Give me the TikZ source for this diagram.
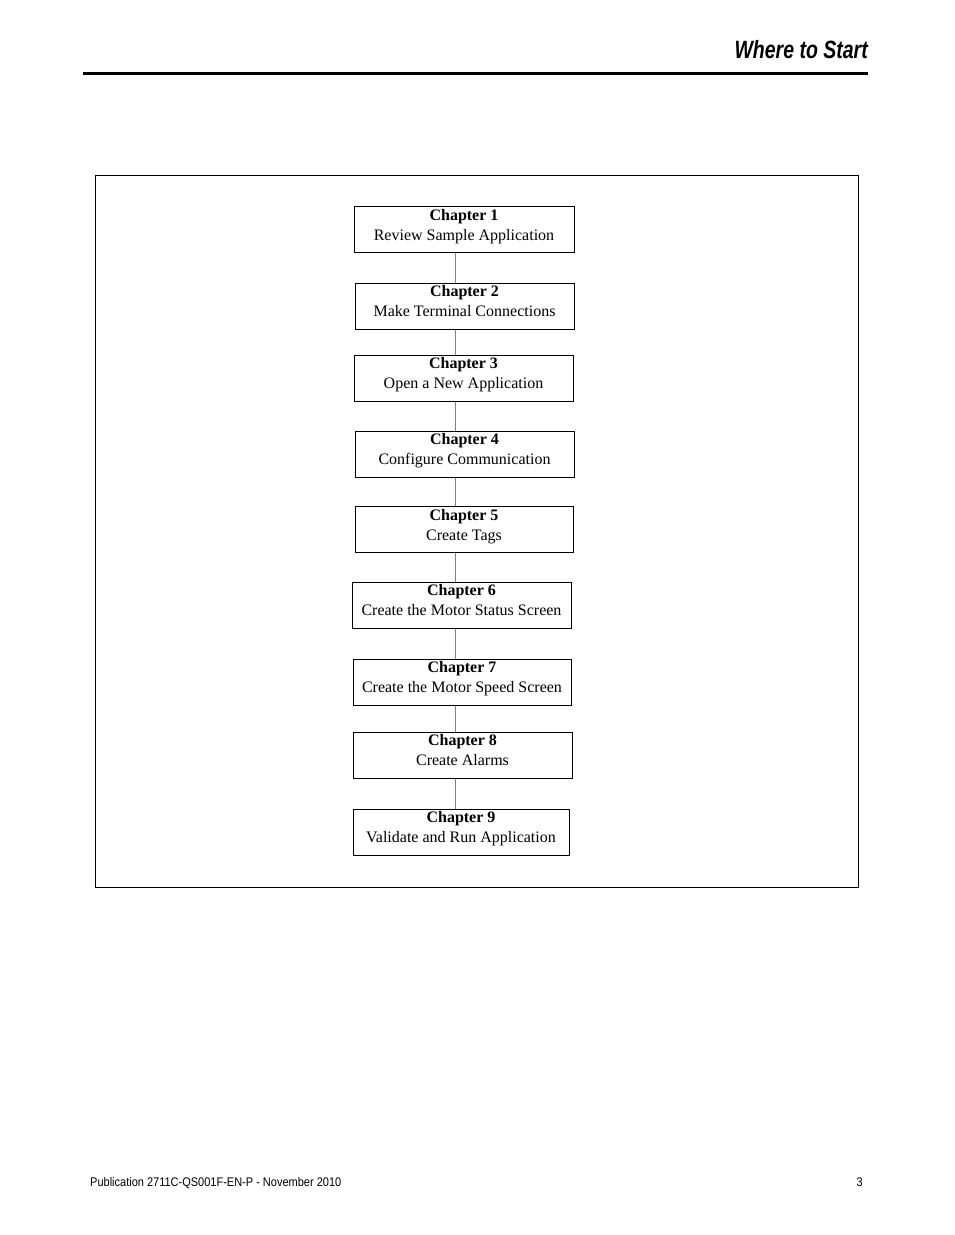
\documentclass[tikz,border=0pt]{standalone}
\usepackage{fontspec}
\setmainfont{Liberation Serif}
\newfontfamily\headfont{Liberation Sans}
\usetikzlibrary{positioning}

\tikzset{
  chapbox/.style={draw, line width=1pt, minimum width=219pt, minimum height=46pt,
    inner sep=0pt, text depth=10pt, align=center, font=\fontsize{16}{20}\selectfont},
  link/.style={draw=gray, line width=1pt}
}

\begin{document}
\begin{tikzpicture}[x=1pt,y=-1pt]
  \useasboundingbox[fill=white] (0,0) rectangle (954,1235);

  % page header and footer
  \node[anchor=base east, inner sep=0pt] (title) at (868,58)
    {\fontsize{25}{25}\headfont\bfseries\itshape\scalebox{0.78}[1]{Where to Start}};
  \draw[line width=3pt] (83,73) -- (868,73);
  \node[anchor=base west, inner sep=0pt] (pub) at (90,1186)
    {\fontsize{12.5}{12.5}\headfont\scalebox{0.88}[1]{Publication 2711C-QS001F-EN-P - November 2010}};
  \node[anchor=base east, inner sep=0pt] (page) at (863,1186)
    {\fontsize{12.5}{12.5}\headfont\scalebox{0.88}[1]{3}};

  % frame
  \draw[line width=1pt] (95,175) rectangle (858,887);

  % chapters
  \coordinate (spine) at (455,0);
  \node[chapbox, minimum width=220pt] (ch1) at (464,229.5) {\textbf{Chapter 1}\\Review Sample Application};
  \node[chapbox] (ch2) at (464.5,306) {\textbf{Chapter 2}\\Make Terminal Connections};
  \node[chapbox] (ch3) at (463.5,378) {\textbf{Chapter 3}\\Open a New Application};
  \node[chapbox] (ch4) at (464.5,454) {\textbf{Chapter 4}\\Configure Communication};
  \node[chapbox, minimum width=218pt] (ch5) at (464,529.5) {\textbf{Chapter 5}\\Create Tags};
  \node[chapbox] (ch6) at (461.5,605) {\textbf{Chapter 6}\\Create the Motor Status Screen};
  \node[chapbox, minimum width=218pt] (ch7) at (462,682) {\textbf{Chapter 7}\\Create the Motor Speed Screen};
  \node[chapbox] (ch8) at (462.5,755) {\textbf{Chapter 8}\\Create Alarms};
  \node[chapbox, minimum width=216pt] (ch9) at (461,832) {\textbf{Chapter 9}\\Validate and Run Application};

  \foreach \a/\b in {ch1/ch2,ch2/ch3,ch3/ch4,ch4/ch5,ch5/ch6,ch6/ch7,ch7/ch8,ch8/ch9}
    \draw[link] (\a.south -| spine) -- (\b.north -| spine);
\end{tikzpicture}
\end{document}
